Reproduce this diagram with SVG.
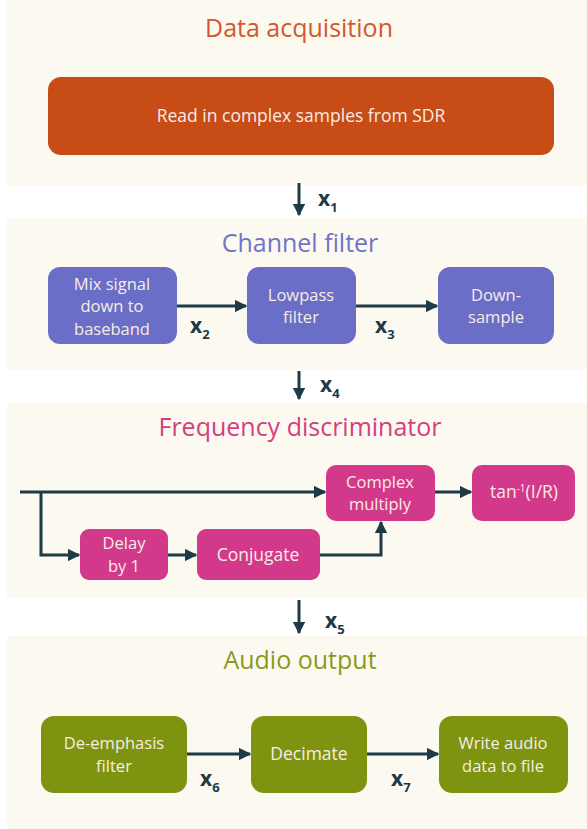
<svg xmlns="http://www.w3.org/2000/svg" width="587" height="829" viewBox="0 0 587 829">
  <style>
    .panel { fill: #fcf9f1; }
    .title { font-family: "Open Sans", "Liberation Sans", sans-serif; font-size: 25px; text-anchor: middle; }
    .node-text { font-family: "Open Sans", "Liberation Sans", sans-serif; font-size: 16.5px; fill: #f7ece6; text-anchor: middle; }
    .wide { font-size: 17.5px; }
    .wire { fill: none; stroke: #1d3b47; stroke-width: 3; }
    .var { font-family: "Open Sans", "Liberation Sans", sans-serif; font-weight: bold; font-size: 21px; fill: #1d3b47; }
    .sub { font-size: 13px; }
    .acq { fill: #c84c16; }
    .chan { fill: #6b6ec6; }
    .disc { fill: #d3398a; }
    .aud { fill: #7e9410; }
  </style>
  <defs>
    <marker id="head" viewBox="0 0 10 10" refX="9" refY="5" markerWidth="4.2" markerHeight="4.2" orient="auto" markerUnits="strokeWidth">
      <path d="M0,0 L10,5 L0,10 Z" fill="#1d3b47"/>
    </marker>
  </defs>

  <rect width="587" height="829" fill="#ffffff"/>

  <!-- section backgrounds -->
  <g id="panels">
    <rect class="panel" x="7" y="0" width="580" height="185"/>
    <rect class="panel" x="7" y="218" width="580" height="151"/>
    <rect class="panel" x="7" y="403" width="580" height="195"/>
    <rect class="panel" x="7" y="636" width="580" height="193"/>
  </g>

  <!-- section titles -->
  <g id="titles">
    <text class="title" x="299" y="37" fill="#d2582b">Data acquisition</text>
    <text class="title" x="300" y="252" fill="#7174c6">Channel filter</text>
    <text class="title" x="300" y="436" fill="#d3407f">Frequency discriminator</text>
    <text class="title" x="300" y="669" fill="#889a1c">Audio output</text>
  </g>

  <!-- data acquisition -->
  <g id="read-sdr">
    <rect class="acq" x="48" y="77" width="506" height="78" rx="13"/>
    <text class="node-text wide" x="301" y="122">Read in complex samples from SDR</text>
  </g>

  <!-- channel filter -->
  <g id="mix">
    <rect class="chan" x="48" y="267" width="129" height="77" rx="12"/>
    <text class="node-text" x="112" y="289.5">Mix signal</text>
    <text class="node-text" x="112" y="312">down to</text>
    <text class="node-text" x="112" y="334.5">baseband</text>
  </g>
  <g id="lowpass">
    <rect class="chan" x="247" y="267" width="109" height="77" rx="12"/>
    <text class="node-text" x="301" y="300.5">Lowpass</text>
    <text class="node-text" x="301" y="323">filter</text>
  </g>
  <g id="downsample">
    <rect class="chan" x="438" y="267" width="116" height="77" rx="12"/>
    <text class="node-text" x="496" y="300.5">Down-</text>
    <text class="node-text" x="496" y="323">sample</text>
  </g>

  <!-- frequency discriminator -->
  <g id="complex-multiply">
    <rect class="disc" x="326" y="465" width="109" height="56" rx="10"/>
    <text class="node-text" x="380" y="487.5">Complex</text>
    <text class="node-text" x="380" y="510">multiply</text>
  </g>
  <g id="arctan">
    <rect class="disc" x="472" y="465" width="103" height="56" rx="10"/>
    <text class="node-text wide" x="524" y="498">tan<tspan font-size="10" dy="-6">-1</tspan><tspan dy="6">(I/R)</tspan></text>
  </g>
  <g id="delay">
    <rect class="disc" x="80" y="529" width="88" height="51" rx="9"/>
    <text class="node-text" x="124" y="549">Delay</text>
    <text class="node-text" x="124" y="571.5">by 1</text>
  </g>
  <g id="conjugate">
    <rect class="disc" x="197" y="529" width="123" height="51" rx="9"/>
    <text class="node-text wide" x="258" y="561">Conjugate</text>
  </g>

  <!-- audio output -->
  <g id="deemphasis">
    <rect class="aud" x="41" y="716" width="146" height="77" rx="13"/>
    <text class="node-text" x="114" y="749">De-emphasis</text>
    <text class="node-text" x="114" y="771.5">filter</text>
  </g>
  <g id="decimate">
    <rect class="aud" x="251" y="716" width="116" height="77" rx="13"/>
    <text class="node-text wide" x="309" y="760">Decimate</text>
  </g>
  <g id="write-file">
    <rect class="aud" x="439" y="716" width="129" height="77" rx="13"/>
    <text class="node-text" x="503" y="749">Write audio</text>
    <text class="node-text" x="503" y="771.5">data to file</text>
  </g>

  <!-- connectors -->
  <g id="connectors">
    <path class="wire" d="M299,183 V215" marker-end="url(#head)"/>
    <path class="wire" d="M177,306 H246" marker-end="url(#head)"/>
    <path class="wire" d="M356,306 H437" marker-end="url(#head)"/>
    <path class="wire" d="M299,371 V399" marker-end="url(#head)"/>
    <path class="wire" d="M20,492 H325" marker-end="url(#head)"/>
    <path class="wire" d="M41,492 V555 H79" marker-end="url(#head)"/>
    <path class="wire" d="M168,555 H196" marker-end="url(#head)"/>
    <path class="wire" d="M320,555 H381 V522" marker-end="url(#head)"/>
    <path class="wire" d="M435,492 H471" marker-end="url(#head)"/>
    <path class="wire" d="M299,600 V633" marker-end="url(#head)"/>
    <path class="wire" d="M187,754 H250" marker-end="url(#head)"/>
    <path class="wire" d="M367,754 H438" marker-end="url(#head)"/>
  </g>

  <!-- signal labels -->
  <g id="labels">
    <text class="var" x="318" y="206">x<tspan class="sub" dy="6">1</tspan></text>
    <text class="var" x="190" y="333">x<tspan class="sub" dy="6">2</tspan></text>
    <text class="var" x="375" y="333">x<tspan class="sub" dy="6">3</tspan></text>
    <text class="var" x="320" y="392">x<tspan class="sub" dy="6">4</tspan></text>
    <text class="var" x="325" y="628">x<tspan class="sub" dy="6">5</tspan></text>
    <text class="var" x="200" y="786">x<tspan class="sub" dy="6">6</tspan></text>
    <text class="var" x="391" y="786">x<tspan class="sub" dy="6">7</tspan></text>
  </g>
</svg>
